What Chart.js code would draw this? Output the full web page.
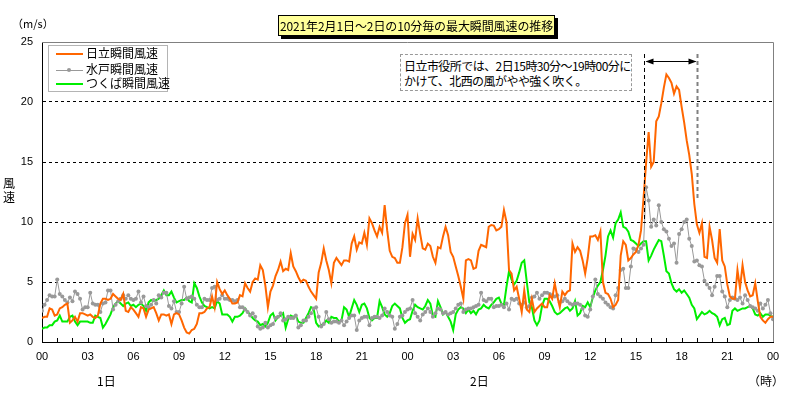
<!DOCTYPE html>
<html>
<head>
<meta charset="utf-8">
<script src="https://cdn.jsdelivr.net/npm/chart.js@4.4.1/dist/chart.umd.min.js"></script>
<style>
  html, body { margin: 0; padding: 0; background: #fff; }
  #wrap { position: relative; width: 800px; height: 399px; overflow: hidden; background: #fff;
          font-family: "Noto Sans CJK JP", "Liberation Sans", sans-serif; color: #000; }
  #c { position: absolute; left: 0; top: 0; }
  .abs { position: absolute; white-space: nowrap; }
  #title { left: 278px; top: 15px; width: 275px; height: 19px; border: 1px solid #000; background: #ffff99;
           box-shadow: 3px 3px 0 #000; font-size: 12px; line-height: 19px; text-align: center; letter-spacing: -0.1px; }
  #legend { left: 48px; top: 45px; width: 118px; height: 45px; border: 1px solid #b4b4b4; background: #fff; }
  .lrow { position: absolute; left: 0; height: 14px; width: 118px; }
  .lline { position: absolute; left: 7px; width: 27px; }
  .ltext { position: absolute; left: 37px; top: -1px; font-size: 12px; line-height: 14px; }
  #note { left: 400px; top: 54px; width: 230px; height: 35px; border: 1px dashed #999; background: #fff;
          font-size: 12px; line-height: 15px; letter-spacing: -0.55px; padding: 0; }
  #note div { position: absolute; left: 3px; }
  .lab { font-size: 12px; line-height: 14px; }
</style>
</head>
<body>
<div id="wrap">
  <canvas id="c" width="800" height="399"></canvas>
  <div id="title" class="abs"></div>
  <div id="legend" class="abs"></div>
  <div id="note" class="abs"><div id="note1" style="top:3px"></div><div id="note2" style="top:18px"></div></div>
  <div class="abs lab" id="unit" style="left:12px; top:16px; font-size:11px;"></div>
  <div class="abs lab" id="ytitle" style="left:2px; top:176px; width:14px; text-align:center; white-space:normal; line-height:14px;"></div>
  <div class="abs lab" id="day1" style="left:97px; top:374px;"></div>
  <div class="abs lab" id="day2" style="left:470px; top:374px;"></div>
  <div class="abs lab" id="hourUnit" style="left:748px; top:374px;"></div>
</div>
<script>
// ---------------- data (10-minute maxima, 2021-02-01 00:00 .. 2021-02-03 00:00) ----------------
const titleText = '2021年2月1日～2日の10分毎の最大瞬間風速の推移';
const seriesNames = ['日立瞬間風速', '水戸瞬間風速', 'つくば瞬間風速'];
const noteLines = ['日立市役所では、2日15時30分～19時00分に', 'かけて、北西の風がやや強く吹く。'];
const xTickLabels = ['00','03','06','09','12','15','18','21','00','03','06','09','12','15','18','21','00'];
const dayLabels = ['1日', '2日'];
const xUnitLabel = '（時）';
const yUnitLabel = '（m/s）';
const yTitle = ['風', '速'];
const yTicks = [0, 5, 10, 15, 20, 25];
const highlightHours = [39.5, 43]; // 2日15:30 – 19:00

const hitachi = [
// day1 00-05
2.0,2.1,2.1,2.8,2.7,2.2,
2.3,2.8,2.9,3.1,3.2,1.6,
1.8,2.1,1.7,2.4,2.4,2.3,
2.2,2.3,2.1,2.0,2.2,3.2,
3.6,3.6,3.5,3.6,4.0,3.8,
3.6,3.5,4.0,2.6,2.5,2.9,
// 06-11
2.7,2.4,2.1,2.9,2.8,2.1,
2.7,2.8,2.9,2.4,1.8,2.3,
2.3,2.2,2.3,1.5,2.3,2.4,
2.3,1.8,1.2,0.8,0.7,1.0,
1.1,1.5,2.4,2.4,2.5,2.8,
2.9,3.8,2.9,5.0,4.4,4.0,
// 12-17
4.3,3.9,3.6,3.2,3.2,3.3,
3.9,3.8,4.9,4.5,4.2,5.0,
5.3,5.2,6.4,6.0,4.7,2.9,
4.2,4.7,5.5,6.0,6.7,5.9,
6.1,6.0,7.4,6.3,5.9,5.4,
5.0,5.2,5.1,4.6,4.2,3.9,
// 18-23
3.6,5.8,6.6,7.8,6.8,6.0,
4.9,6.6,7.0,6.7,6.4,6.8,
6.8,6.7,8.2,8.8,7.7,8.3,
8.2,9.1,8.1,10.3,9.9,9.3,
8.8,9.6,9.1,11.4,9.3,7.6,
7.1,7.0,6.6,6.6,7.9,9.9,
// day2 00-05
10.6,7.1,9.0,8.5,10.3,9.0,
7.8,7.7,8.2,8.0,7.1,6.6,
7.9,7.8,8.8,9.6,8.9,7.5,
7.1,6.3,5.5,4.6,3.6,6.8,
6.9,6.8,6.1,6.2,7.6,8.1,
8.0,7.9,9.6,9.75,9.7,9.3,
// 06-11
9.4,9.6,11.0,10.0,6.0,5.7,
4.3,4.6,3.6,2.5,4.3,2.7,
2.5,3.6,2.5,2.8,3.0,3.2,
2.9,2.9,3.9,3.6,4.9,3.8,
2.9,4.2,3.9,4.2,4.3,8.2,
7.5,7.9,7.6,6.8,5.7,7.0,
// 12-17
8.8,8.8,8.9,8.5,9.2,5.0,
4.1,4.0,3.6,2.9,3.1,3.5,
7.2,8.4,8.1,6.8,7.0,7.3,
7.5,8.1,9.3,12.0,14.9,17.5,
14.6,15.0,18.4,18.8,19.9,21.2,
22.3,22.0,21.6,20.7,21.3,21.0,
// 18-23
19.6,18.3,16.8,15.6,14.0,11.5,
9.8,9.1,9.9,7.1,7.0,9.6,
8.5,7.0,6.6,9.4,6.8,6.3,
4.8,3.8,3.6,3.6,6.0,4.5,
6.4,5.0,4.3,3.8,3.9,4.9,
3.4,2.1,1.8,1.6,1.9,2.1,
2.1
];

const mito = [
// day1 00-05
2.6,3.1,3.5,3.9,3.8,3.8,
5.2,4.0,3.8,3.5,3.3,3.7,
3.4,4.2,4.0,3.6,2.7,2.9,
2.9,4.1,3.2,3.1,3.1,2.5,
3.2,3.3,4.3,4.3,2.7,3.1,
3.4,3.6,3.9,3.6,3.9,3.6,
// 06-11
3.5,3.6,4.2,3.3,3.8,3.0,
2.9,3.1,3.5,3.2,3.9,3.7,
4.1,4.1,3.0,2.8,3.4,2.5,
2.5,3.2,4.6,3.6,3.7,3.8,
3.6,3.1,2.9,2.9,3.6,3.5,
3.5,4.5,4.6,3.5,3.6,3.9,
// 12-17
3.6,3.6,3.5,3.5,3.4,3.5,
2.9,2.9,2.7,2.5,2.2,2.4,
2.1,1.3,1.1,1.2,1.6,1.2,
1.4,1.5,2.0,2.1,2.4,1.8,
1.9,2.1,2.0,2.0,2.2,1.2,
1.4,1.8,1.8,2.1,2.4,2.8,
// 18-23
2.9,2.1,1.3,1.5,2.5,1.9,
1.6,1.7,1.7,1.6,1.8,1.4,
1.7,2.0,2.2,2.2,1.0,1.8,
2.0,2.1,2.1,1.4,2.0,2.1,
2.1,2.0,2.2,2.8,2.5,2.2,
2.1,1.1,1.5,2.1,2.2,2.5,
// day2 00-05
2.7,2.8,3.5,2.4,2.1,1.8,
2.3,2.5,2.8,2.5,2.1,2.4,
2.8,2.7,2.4,2.5,2.3,2.4,
2.5,2.8,3.1,3.2,2.5,2.7,
2.8,2.8,2.9,3.0,3.1,4.1,
3.5,3.4,3.6,3.6,2.9,3.0,
// 06-11
3.0,3.1,2.9,3.2,2.7,3.6,
3.5,3.6,3.2,3.1,3.3,2.9,
3.0,3.7,3.8,4.1,3.6,3.9,
4.1,4.1,4.0,3.9,3.8,3.9,
3.3,3.4,3.6,3.4,3.2,3.1,
3.2,3.2,3.1,2.8,2.2,2.1,
// 12-17
2.7,3.8,5.2,4.0,3.8,3.6,
3.3,3.1,2.9,2.8,3.9,4.5,
6.0,6.1,4.5,4.5,6.3,7.8,
7.7,7.5,7.8,8.1,12.9,11.8,
9.6,10.2,9.7,11.4,10.0,9.4,
9.2,8.6,8.0,8.2,6.6,9.0,
// 18-23
9.4,10.0,10.2,8.6,8.0,6.7,
6.8,6.4,6.3,5.1,4.8,4.5,
3.9,4.6,5.5,5.5,4.2,3.8,
2.9,3.5,3.7,3.6,3.5,3.7,
3.2,3.9,3.5,3.0,2.9,2.8,
2.6,3.2,2.8,3.1,3.5,2.4,
1.9
];

const tsukuba = [
// day1 00-05
1.1,1.2,1.2,1.4,1.4,1.7,
1.8,2.2,1.7,1.7,1.7,2.1,
2.2,1.7,1.4,1.7,1.7,1.7,
1.7,1.6,1.6,2.2,2.1,2.0,
1.2,1.5,1.9,2.3,2.9,3.2,
3.4,3.2,3.0,3.2,3.3,3.0,
// 06-11
3.1,2.9,3.1,3.2,3.0,2.6,
3.3,3.5,3.4,3.5,3.6,3.9,
4.3,3.9,3.9,4.2,3.7,3.3,
3.4,3.5,3.5,3.7,3.4,3.3,
4.9,4.5,3.8,3.3,3.0,2.9,
2.8,2.9,2.8,3.4,3.2,2.3,
// 12-17
2.3,2.3,2.1,1.7,2.1,2.1,
2.2,2.4,2.8,2.5,2.3,2.0,
1.8,1.7,1.4,1.5,1.3,1.6,
2.2,2.4,1.8,2.1,2.2,2.4,
1.2,1.9,2.2,2.1,2.2,1.7,
1.6,1.6,2.0,2.4,2.9,2.8,
// 18-23
1.6,1.3,1.4,1.5,1.8,1.6,
2.1,2.0,2.0,1.7,1.8,2.9,
2.7,2.1,2.8,3.5,3.1,2.5,
3.1,3.2,2.8,2.0,1.8,2.0,
2.0,3.4,2.9,2.3,2.1,2.4,
3.0,3.2,3.0,2.8,2.0,1.6,
// day2 00-05
1.8,1.9,2.6,3.1,2.9,2.8,
2.7,3.0,3.5,3.2,2.2,2.1,
3.4,2.9,2.3,2.5,2.1,1.7,
1.0,2.3,2.7,2.9,2.8,2.4,
2.7,2.4,2.6,2.3,2.7,2.8,
3.1,2.9,2.8,3.1,3.3,3.6,
// 06-11
3.7,3.2,3.1,4.6,5.9,5.2,
4.8,5.1,5.8,6.6,6.8,5.0,
3.3,2.9,1.8,1.4,1.8,3.0,
3.6,3.6,3.4,3.0,2.5,2.3,
2.4,2.6,2.8,2.9,2.6,2.8,
3.4,2.2,2.4,3.0,2.9,3.3,
// 12-17
2.9,3.7,4.3,4.7,5.0,6.0,
7.2,8.8,9.3,8.7,9.9,10.2,
10.8,9.6,9.5,9.2,8.5,8.4,
8.2,8.0,8.2,8.4,8.4,6.8,
7.2,7.7,8.1,8.5,8.4,7.2,
5.9,5.7,4.9,4.4,4.2,4.4,
// 18-23
4.1,4.3,4.0,3.7,3.1,2.8,
1.9,2.2,2.5,2.3,2.4,2.6,
2.4,2.3,2.1,1.4,1.9,2.0,
1.4,1.5,2.6,2.8,2.6,2.7,
2.8,2.8,2.9,3.0,2.8,2.3,
2.2,2.4,2.1,2.3,2.3,2.2,
2.1
];

// ---------------- styles ----------------
const colors = ['#ff6600', '#999999', '#00ee00'];
const widths = [2, 1, 2];

// ---------------- HTML text ----------------
document.getElementById('title').textContent = titleText;
document.getElementById('note1').textContent = noteLines[0];
document.getElementById('note2').textContent = noteLines[1];
document.getElementById('unit').textContent = yUnitLabel;
document.getElementById('ytitle').innerHTML = yTitle.join('<br>');
document.getElementById('day1').textContent = dayLabels[0];
document.getElementById('day2').textContent = dayLabels[1];
document.getElementById('hourUnit').textContent = xUnitLabel;

(function buildLegend() {
  const lg = document.getElementById('legend');
  const tops = [1, 17, 31];
  seriesNames.forEach((name, i) => {
    const row = document.createElement('div');
    row.className = 'lrow';
    row.style.top = tops[i] + 'px';
    const ln = document.createElement('div');
    ln.className = 'lline';
    ln.style.top = (7 - Math.floor(widths[i] / 2)) + 'px';
    ln.style.height = widths[i] + 'px';
    ln.style.background = colors[i];
    row.appendChild(ln);
    if (i === 1) {
      const dot = document.createElement('div');
      dot.style.cssText = 'position:absolute;left:18px;top:5px;width:4px;height:4px;border-radius:2px;background:' + colors[1];
      row.appendChild(dot);
    }
    const tx = document.createElement('div');
    tx.className = 'ltext';
    tx.textContent = name;
    row.appendChild(tx);
    lg.appendChild(row);
  });
})();

// ---------------- chart ----------------
const toPts = arr => arr.map((v, i) => ({ x: i, y: v }));
const pointsPerHour = 6;

const overlay = {
  id: 'overlay',
  afterDraw(chart) {
    const { ctx, chartArea: a, scales: { x } } = chart;
    ctx.save();
    // top & right frame
    ctx.strokeStyle = '#808080';
    ctx.lineWidth = 1;
    ctx.beginPath();
    ctx.moveTo(a.left, a.top + 0.5);
    ctx.lineTo(a.right + 0.5, a.top + 0.5);
    ctx.lineTo(a.right + 0.5, a.bottom);
    ctx.stroke();
    // hourly tick marks, drawn inward
    ctx.strokeStyle = '#000';
    ctx.beginPath();
    for (let h = 1; h < 48; h++) {
      const px = Math.round(x.getPixelForValue(h * pointsPerHour)) + 0.5;
      ctx.moveTo(px, a.bottom);
      ctx.lineTo(px, a.bottom - 4);
    }
    ctx.stroke();
    // highlight period lines and arrow
    const x1 = Math.round(x.getPixelForValue(highlightHours[0] * pointsPerHour)) + 0.5;
    const x2 = Math.round(x.getPixelForValue(highlightHours[1] * pointsPerHour)) + 0.5;
    ctx.setLineDash([4, 3]);
    ctx.lineWidth = 1;
    ctx.strokeStyle = '#000';
    ctx.beginPath(); ctx.moveTo(x1, 54); ctx.lineTo(x1, 223); ctx.stroke();
    ctx.strokeStyle = '#808080';
    ctx.lineWidth = 2;
    ctx.beginPath(); ctx.moveTo(x2, 54); ctx.lineTo(x2, 200); ctx.stroke();
    ctx.setLineDash([]);
    ctx.lineWidth = 1;
    ctx.strokeStyle = '#000';
    ctx.fillStyle = '#000';
    const ay = 61.5;
    ctx.beginPath(); ctx.moveTo(x1 + 2, ay); ctx.lineTo(x2 - 2, ay); ctx.stroke();
    ctx.beginPath(); ctx.moveTo(x1 + 1, ay); ctx.lineTo(x1 + 9, ay - 3); ctx.lineTo(x1 + 9, ay + 3); ctx.closePath(); ctx.fill();
    ctx.beginPath(); ctx.moveTo(x2 - 1, ay); ctx.lineTo(x2 - 9, ay - 3); ctx.lineTo(x2 - 9, ay + 3); ctx.closePath(); ctx.fill();
    ctx.restore();
  }
};

new Chart(document.getElementById('c'), {
  type: 'line',
  data: {
    datasets: [
      { label: seriesNames[0], data: toPts(hitachi), borderColor: colors[0], borderWidth: widths[0], pointRadius: 0 },
      { label: seriesNames[1], data: toPts(mito), borderColor: colors[1], borderWidth: widths[1],
        pointRadius: 2, pointBackgroundColor: colors[1], pointBorderWidth: 0, pointHoverRadius: 0 },
      { label: seriesNames[2], data: toPts(tsukuba), borderColor: colors[2], borderWidth: widths[2], pointRadius: 0 }
    ]
  },
  options: {
    responsive: false,
    devicePixelRatio: 1,
    animation: false,
    events: [],
    elements: { line: { tension: 0 } },
    layout: { padding: { top: 42, right: 27, left: 0, bottom: 0 } },
    plugins: { legend: { display: false }, tooltip: { enabled: false }, title: { display: false } },
    scales: {
      x: {
        type: 'linear', min: 0, max: 288,
        afterFit(s) { s.height = 57; },
        afterBuildTicks(s) { s.ticks = xTickLabels.map((_, i) => ({ value: i * 18 })); },
        ticks: {
          autoSkip: false, maxRotation: 0, padding: 8, color: '#000',
          font: { family: 'Liberation Sans', size: 11 },
          callback: (v) => xTickLabels[Math.round(v / 18)]
        },
        grid: { display: false, drawTicks: false },
        border: { display: true, color: '#000', width: 1 }
      },
      y: {
        type: 'linear', min: 0, max: 25,
        afterFit(s) { s.width = 42; },
        afterBuildTicks(s) { s.ticks = yTicks.map(v => ({ value: v })); },
        ticks: { padding: 9, color: '#000', font: { family: 'Liberation Sans', size: 11 } },
        grid: {
          drawTicks: false, lineWidth: 1,
          color: (c) => (c.tick && (c.tick.value === 0 || c.tick.value === 25)) ? 'rgba(0,0,0,0)' : '#000'
        },
        border: { display: true, color: '#000', width: 1, dash: [3, 3] }
      }
    }
  },
  plugins: [overlay]
});
</script>
</body>
</html>
